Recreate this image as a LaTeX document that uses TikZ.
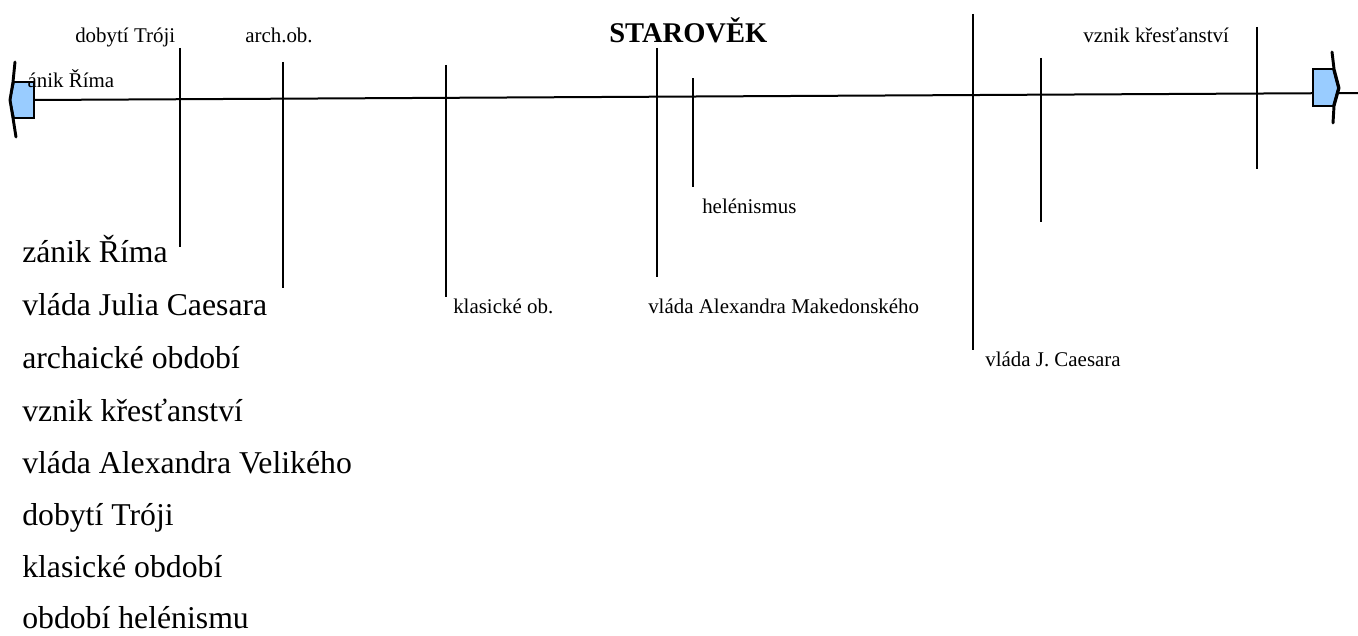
\documentclass[tikz,border=0pt]{standalone}
\usepackage{fontspec}
\setmainfont{Liberation Serif}
\usetikzlibrary{positioning}
\definecolor{arrowblue}{RGB}{153,204,255}
\newcommand{\listfont}{\fontsize{23.8}{28}\selectfont}
\newcommand{\tagfont}{\fontsize{15.7}{18}\selectfont}

\begin{document}
\begin{tikzpicture}[x=0.75pt,y=-0.75pt,
  tick/.style={line width=1.5pt},
  tag/.style={font=\tagfont, anchor=base west, inner sep=0pt},
  entry/.style={font=\listfont, anchor=base west, inner sep=0pt},
  endbox/.style={fill=arrowblue, draw=black, line width=1.3pt},
  endcap/.style={line width=2.2pt, line cap=round, line join=round}]
  \useasboundingbox (0,0) rectangle (1358,635);
  % Axis
  \draw[tick] (34,100) -- (1358,93);
  % Ticks
  \foreach \x/\top/\bot in {180/48/247, 283/62/288, 446/65/297, 657/48/277,
                             693/78/187, 973/14/350, 1041/58/222, 1257/27/169}
    \draw[tick] (\x,\top) -- (\x,\bot);
  % Ends of the axis
  \draw[endbox] (34,82) -- (14,82) -- (10,100) -- (14,118) -- (34,118) -- cycle;
  \draw[endcap] (15,62) -- (13,82) -- (10,100) -- (13,118) -- (16,137);
  \draw[endbox] (1313,69) -- (1333,69) -- (1338,88) -- (1333,106) -- (1313,106) -- cycle;
  \draw[endcap] (1332,52) -- (1334,69) -- (1339,88) -- (1334,106) -- (1333,123);
  % Title
  \node[font=\bfseries\fontsize{21.4}{24}\selectfont, anchor=base west, inner sep=0pt]
    (title) at (609,43) {STAROVĚK};
  % Labels at the ticks
  \begin{scope}
    \clip (28,60) rectangle (140,100);
    \node[tag] (zanikTag) at (18,88) {zánik Říma};
  \end{scope}
  \node[tag] (trojaTag)    at (75,43)   {dobytí Tróji};
  \node[tag] (archTag)     at (245,43)  {arch.ob.};
  \node[tag] (krestTag)    at (1083,43) {vznik křesťanství};
  \node[tag] (helenTag)    at (702,213) {helénismus};
  \node[tag] (klasTag)     at (453,313) {klasické ob.};
  \node[tag] (alexTag)     at (648,313) {vláda Alexandra Makedonského};
  \node[tag] (caesarTag)   at (985,366) {vláda J. Caesara};
  % List of events
  \node[entry] (zanik)  at (22,262) {zánik Říma};
  \node[entry] (julius) at (22,315) {vláda Julia Caesara};
  \node[entry] (archa)  at (22,368) {archaické období};
  \node[entry] (krest)  at (22,421) {vznik křesťanství};
  \node[entry] (alex)   at (22,473) {vláda Alexandra Velikého};
  \node[entry] (troja)  at (22,525) {dobytí Tróji};
  \node[entry] (klas)   at (22,577) {klasické období};
  \node[entry] (helen)  at (22,628) {období helénismu};
\end{tikzpicture}
\end{document}
